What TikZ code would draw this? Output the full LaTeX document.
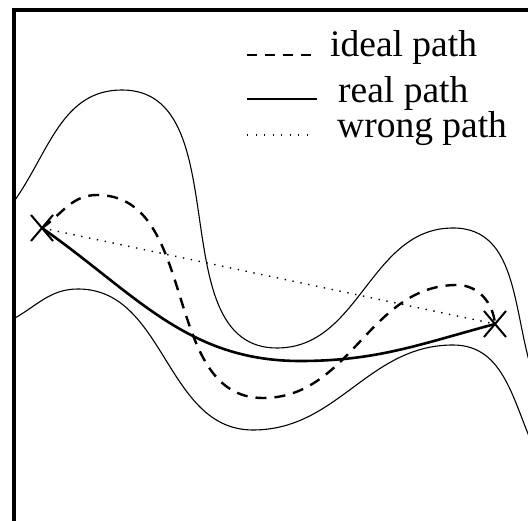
\documentclass[tikz,border=0pt]{standalone}
\usepackage{fontspec}
\setmainfont{Liberation Serif}
\usetikzlibrary{shapes.misc}

\begin{document}
\begin{tikzpicture}[
x=1pt,y=1pt,
bound/.style={line width=1.1pt},
idealpath/.style={line width=2.4pt,dash pattern=on 11pt off 8pt},
realpath/.style={line width=2.6pt},
wrongpath/.style={line width=1.4pt,dash pattern=on 1.4pt off 6.6pt},
endmark/.style={cross out,draw,line width=2pt,minimum width=20pt,minimum height=24pt,inner sep=0pt},
legend/.style={anchor=base west,inner sep=0pt,font=\fontsize{37.5}{44}\selectfont}
]
\useasboundingbox (0,0) rectangle (528,520);
\clip (0,0) rectangle (528,520);

% frame
\draw[line width=4pt] (14,-20) rectangle (560,510);

% corridor
\draw[bound] (15,320) to[out=55,in=180] (122,430) to[out=0,in=180] (277,172)
  to[out=0,in=180] (453,292) to[out=0,in=110] (535,140);
\draw[bound] (15,202) to[out=30,in=180] (78,231) to[out=0,in=180] (253,90)
  to[out=0,in=180] (453,175) to[out=0,in=115] (535,70);

% start and goal
\node[endmark] (start) at (42,292) {};
\node[endmark] (goal) at (495,196) {};

% paths
\draw[wrongpath] (start.center) -- (goal.center);
\draw[realpath] (start.center) to[out=-35,in=180] (300,159) to[out=0,in=195] (goal.center);
\draw[idealpath] (start.center) to[out=35,in=180] (97,325) to[out=0,in=180] (263,122)
  to[out=0,in=180] (457,235) to[out=0,in=95] (goal.center);

% legend
\node[legend] (lideal) at (330,463) {ideal path};
\node[legend] (lreal) at (338,417) {real path};
\node[legend] (lwrong) at (337,382) {wrong path};
\draw[line width=2pt,dash pattern=on 10pt off 8pt] ([xshift=-83pt,yshift=2pt]lideal.base west) -- ([xshift=-18pt,yshift=2pt]lideal.base west);
\draw[line width=2.4pt] ([xshift=-91pt,yshift=4pt]lreal.base west) -- ([xshift=-21pt,yshift=4pt]lreal.base west);
\draw[line width=1.2pt,dash pattern=on 1.2pt off 7.3pt] ([xshift=-90pt,yshift=3pt]lwrong.base west) -- ([xshift=-25pt,yshift=3pt]lwrong.base west);
\end{tikzpicture}
\end{document}
